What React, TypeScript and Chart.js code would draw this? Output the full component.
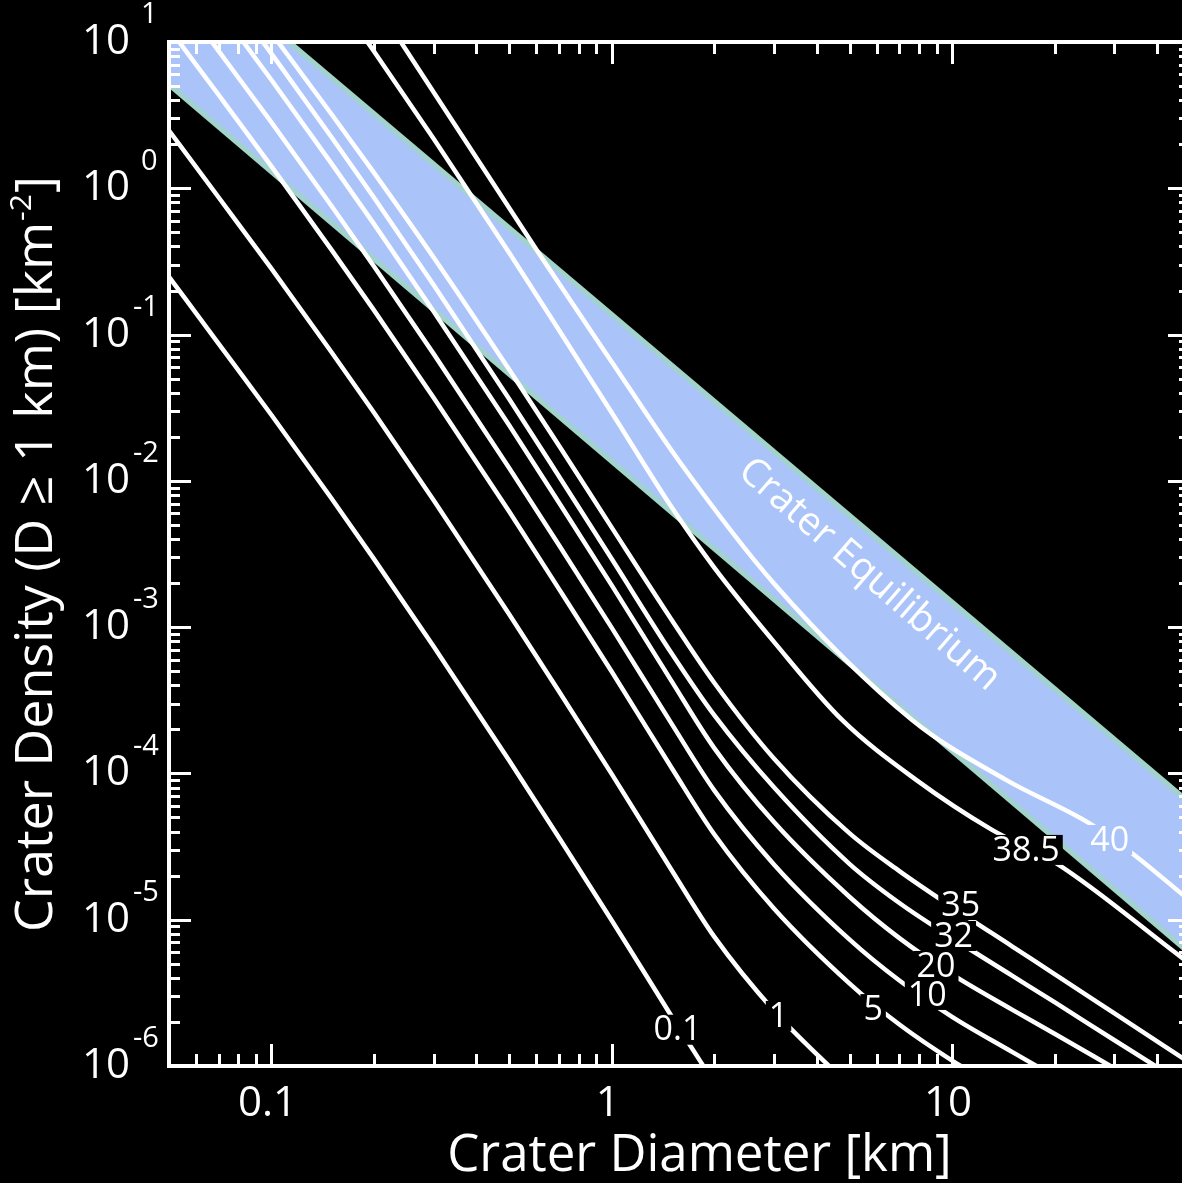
import React, { useEffect, useRef } from "react";
import { Chart, registerables } from "chart.js";

Chart.register(...registerables);

const FONT = '"Open Sans", "Noto Sans", sans-serif';

// ---- axes ----
const xRange = [0.05, 50];
const yRange = [1e-6, 10];
const xTickValues = [0.1, 1, 10];
const xTickLabels = ["0.1", "1", "10"];
const yTickExponents = [-6, -5, -4, -3, -2, -1, 0, 1];

// ---- crater equilibrium band ----
const equilibriumD = [0.05, 50];
const equilibriumUpper = [49.5, 6.27e-5];
const equilibriumLower = [5.1, 5.87e-6];

// ---- crater density curves (diameter km, cumulative density km^-2) ----
const d_0_1 = [0.05, 0.07, 0.1, 0.15, 0.2, 0.3, 0.5, 0.7, 1, 1.5, 2];
const n_0_1 = [0.248, 0.0865, 0.0282, 7.6e-3, 2.93e-3, 7.35e-4, 1.22e-4, 3.63e-5, 9.89e-6, 2.18e-6, 7.66e-7];

const d_1 = [0.05, 0.07, 0.1, 0.15, 0.2, 0.3, 0.5, 0.7, 1, 1.5, 2, 3, 5];
const n_1 = [2.48, 0.865, 0.282, 0.076, 0.0293, 7.35e-3, 1.22e-3, 3.63e-4, 9.89e-5, 2.18e-5, 7.66e-6, 2.38e-6, 7.31e-7];

const d_5 = [0.05, 0.07, 0.1, 0.15, 0.2, 0.3, 0.5, 0.7, 1, 1.5, 2, 3, 5, 7, 10, 15];
const n_5 = [12.4, 4.34, 1.41, 0.381, 0.147, 0.0368, 6.14e-3, 1.82e-3, 4.95e-4, 1.09e-4, 3.84e-5, 1.19e-5, 3.66e-6, 1.92e-6, 1.09e-6, 6.25e-7];

const d_10 = [0.05, 0.07, 0.1, 0.15, 0.2, 0.3, 0.5, 0.7, 1, 1.5, 2, 3, 5, 7, 10, 15, 20];
const n_10 = [24.8, 8.65, 2.82, 0.76, 0.293, 0.0735, 0.0122, 3.63e-3, 9.89e-4, 2.18e-4, 7.66e-5, 2.38e-5, 7.31e-6, 3.84e-6, 2.17e-6, 1.25e-6, 8.49e-7];

const d_20 = [0.05, 0.07, 0.1, 0.15, 0.2, 0.3, 0.5, 0.7, 1, 1.5, 2, 3, 5, 7, 10, 15, 20, 30];
const n_20 = [48.4, 16.9, 5.5, 1.48, 0.571, 0.143, 0.0239, 7.08e-3, 1.93e-3, 4.26e-4, 1.49e-4, 4.63e-5, 1.43e-5, 7.48e-6, 4.23e-6, 2.43e-6, 1.66e-6, 9.64e-7];

const d_32 = [0.07, 0.1, 0.15, 0.2, 0.3, 0.5, 0.7, 1, 1.5, 2, 3, 5, 7, 10, 15, 20, 30, 50];
const n_32 = [25.5, 8.32, 2.24, 0.865, 0.217, 0.0361, 0.0107, 2.92e-3, 6.6e-4, 2.5e-4, 8.0e-5, 2.4e-5, 1.3e-5, 7.5e-6, 4.15e-6, 2.73e-6, 1.5e-6, 7.1e-7];

const d_35 = [0.1, 0.15, 0.2, 0.3, 0.5, 0.7, 1, 1.5, 2, 3, 5, 7, 10, 15, 20, 30, 50];
const n_35 = [11.5, 3.22, 1.28, 0.335, 0.0574, 0.0174, 4.79e-3, 1.12e-3, 4.17e-4, 1.26e-4, 3.89e-5, 2.15e-5, 1.22e-5, 6.58e-6, 4.25e-6, 2.29e-6, 1.05e-6];

const d_38_5 = [0.15, 0.2, 0.3, 0.5, 0.7, 1, 1.5, 2, 3, 4.75, 7.84, 13.1, 20.2, 47, 50];
const n_38_5 = [22.4, 8.65, 2.17, 0.361, 0.107, 0.0292, 6.59e-3, 2.55e-3, 7.9e-4, 2.32e-4, 9.03e-5, 4.11e-5, 2.44e-5, 5.57e-6, 5.0e-6];

const d_40 = [0.15, 0.24, 0.615, 1, 1.582, 3, 7.63, 14.4, 25.2, 33.7, 47, 50];
const n_40 = [55, 10, 0.35, 0.065, 0.0135, 1.98e-3, 2.32e-4, 9.03e-5, 4.59e-5, 2.86e-5, 1.52e-5, 1.35e-5];

const curveD = [d_0_1, d_1, d_5, d_10, d_20, d_32, d_35, d_38_5, d_40];
const curveN = [n_0_1, n_1, n_5, n_10, n_20, n_32, n_35, n_38_5, n_40];

// ---- curve labels ----
const labelText = ["0.1", "1", "5", "10", "20", "32", "35", "38.5", "40"];
const labelD = [1.56, 3.09, 5.86, 8.45, 8.97, 10.1, 10.6, 16.5, 29.05];
const labelN = [1.77e-6, 2.2e-6, 2.45e-6, 3.06e-6, 4.83e-6, 7.74e-6, 1.26e-5, 3.0e-5, 3.51e-5];
const labelInBand = [false, false, false, false, false, false, false, false, true];

const equilibriumText = "Crater Equilibrium";
const equilibriumTextD = 5.71;
const equilibriumTextN = 2.28e-3;

const xTitle = "Crater Diameter [km]";
const yTitleMain = "Crater Density (D \u2265 1 km) [km";
const yTitleSup = "-2";
const yTitleEnd = "]";

const BAND_FILL = "#aac4fa";
const BAND_EDGE = "#a2d3ca";

const decorPlugin = {
  id: "decor",
  beforeDraw(chart: any) {
    const ctx = chart.ctx;
    ctx.save();
    ctx.fillStyle = "#000";
    ctx.fillRect(0, 0, chart.width, chart.height);
    ctx.restore();
  },
  afterDatasetsDraw(chart: any) {
    const ctx = chart.ctx;
    const xs = chart.scales.x;
    const ys = chart.scales.y;
    ctx.save();
    // curve labels with knockout
    ctx.font = `34px ${FONT}`;
    ctx.textAlign = "center";
    ctx.textBaseline = "middle";
    labelText.forEach((t, i) => {
      const px = xs.getPixelForValue(labelD[i]);
      const py = ys.getPixelForValue(labelN[i]);
      const w = ctx.measureText(t).width;
      ctx.fillStyle = labelInBand[i] ? BAND_FILL : "#000";
      ctx.fillRect(px - w / 2 - 3, py - 15, w + 6, 30);
      ctx.fillStyle = "#fff";
      ctx.fillText(t, px, py + 1);
    });
    // equilibrium text along band
    const ax = xs.getPixelForValue(equilibriumD[0]);
    const ay = ys.getPixelForValue(equilibriumLower[0]);
    const bx = xs.getPixelForValue(equilibriumD[1]);
    const by = ys.getPixelForValue(equilibriumLower[1]);
    const ang = Math.atan2(by - ay, bx - ax);
    ctx.translate(xs.getPixelForValue(equilibriumTextD), ys.getPixelForValue(equilibriumTextN));
    ctx.rotate(ang + 0.01);
    ctx.font = `39px ${FONT}`;
    ctx.fillStyle = "#fff";
    ctx.fillText(equilibriumText, 0, 0);
    ctx.restore();
  },
  afterDraw(chart: any) {
    const ctx = chart.ctx;
    const { left, right, top, bottom } = chart.chartArea;
    const xs = chart.scales.x;
    const ys = chart.scales.y;
    ctx.save();
    ctx.strokeStyle = "#fff";
    ctx.fillStyle = "#fff";
    // ticks
    ctx.lineWidth = 3;
    ctx.beginPath();
    for (let e = -2; e <= 2; e++) {
      for (let m = 1; m <= 9; m++) {
        const v = m * Math.pow(10, e);
        if (v < xRange[0] - 1e-9 || v > xRange[1] + 1e-9) continue;
        const px = Math.round(xs.getPixelForValue(v)) + 0.5;
        const len = m === 1 ? 22 : 12;
        ctx.moveTo(px, bottom);
        ctx.lineTo(px, bottom - len);
        ctx.moveTo(px, top);
        ctx.lineTo(px, top + len);
      }
    }
    for (let e = -6; e <= 1; e++) {
      for (let m = 1; m <= 9; m++) {
        const v = m * Math.pow(10, e);
        if (v < yRange[0] * 0.999 || v > yRange[1] * 1.001) continue;
        const py = Math.round(ys.getPixelForValue(v)) + 0.5;
        const len = m === 1 ? 22 : 11;
        ctx.moveTo(left, py);
        ctx.lineTo(left + len, py);
        ctx.moveTo(right, py);
        ctx.lineTo(right - len, py);
      }
    }
    ctx.stroke();
    // frame
    ctx.lineWidth = 4;
    ctx.strokeRect(left, top, right - left, bottom - top);

    // x tick labels
    ctx.font = `42px ${FONT}`;
    ctx.textAlign = "center";
    ctx.textBaseline = "middle";
    xTickValues.forEach((v, i) => {
      ctx.fillText(xTickLabels[i], xs.getPixelForValue(v) - 4, bottom + 38);
    });
    // y tick labels 10^n
    yTickExponents.forEach((e) => {
      const py = ys.getPixelForValue(Math.pow(10, e));
      ctx.font = `42px ${FONT}`;
      ctx.textAlign = "right";
      ctx.textBaseline = "middle";
      ctx.fillText("10", left - 39, py);
      ctx.font = `29px ${FONT}`;
      ctx.textAlign = "left";
      const s = e < 0 ? "-" + Math.abs(e) : String(e);
      ctx.fillText(s, left - 36 + (e < 0 ? 0 : 8), py - 27);
    });
    // x title
    ctx.font = `51px ${FONT}`;
    ctx.textAlign = "center";
    ctx.textBaseline = "middle";
    ctx.fillText(xTitle, (left + right) / 2 + 20, bottom + 90);
    // y title (rotated, with superscript)
    ctx.translate(37, (top + bottom) / 2);
    ctx.rotate(-Math.PI / 2);
    ctx.font = `52px ${FONT}`;
    const w1 = ctx.measureText(yTitleMain).width;
    const w3 = ctx.measureText(yTitleEnd).width;
    ctx.font = `30px ${FONT}`;
    const w2 = ctx.measureText(yTitleSup).width;
    const total = w1 + w2 + w3 + 2;
    let x0 = -total / 2;
    ctx.textAlign = "left";
    ctx.textBaseline = "middle";
    ctx.font = `52px ${FONT}`;
    ctx.fillText(yTitleMain, x0, 0);
    x0 += w1 + 1;
    ctx.font = `30px ${FONT}`;
    ctx.fillText(yTitleSup, x0, -15);
    x0 += w2 + 1;
    ctx.font = `52px ${FONT}`;
    ctx.fillText(yTitleEnd, x0, 0);
    ctx.restore();
  },
};

export default function App() {
  const ref = useRef<HTMLCanvasElement>(null);
  useEffect(() => {
    document.body.style.margin = "0";
    document.body.style.background = "#000";
    document.body.style.overflow = "hidden";
    const canvas = ref.current!;
    const pts = (ds: number[], ns: number[]) => ds.map((d, i) => ({ x: d, y: ns[i] }));
    const curveSets = curveD.map((ds, i) => ({
      label: labelText[i],
      data: pts(ds, curveN[i]),
      borderColor: "#ffffff",
      borderWidth: 4.5,
      pointRadius: 0,
      fill: false,
      cubicInterpolationMode: "monotone" as const,
      clip: 0,
      order: 1,
    }));
    const chart = new Chart(canvas, {
      type: "line",
      data: {
        datasets: [
          ...curveSets,
          {
            label: "eqUpperEdge",
            data: pts(equilibriumD, equilibriumUpper),
            borderColor: BAND_EDGE,
            borderWidth: 5,
            pointRadius: 0,
            fill: false,
            clip: 0,
            order: 5,
          },
          {
            label: "eqLowerEdge",
            data: pts(equilibriumD, equilibriumLower),
            borderColor: BAND_EDGE,
            borderWidth: 5,
            pointRadius: 0,
            fill: false,
            clip: 0,
            order: 5,
          },
          {
            label: "eqFillUpper",
            data: pts(equilibriumD, equilibriumUpper),
            borderWidth: 0,
            borderColor: "rgba(0,0,0,0)",
            backgroundColor: BAND_FILL,
            pointRadius: 0,
            fill: "+1",
            clip: 0,
            order: 10,
          },
          {
            label: "eqFillLower",
            data: pts(equilibriumD, equilibriumLower),
            borderWidth: 0,
            borderColor: "rgba(0,0,0,0)",
            pointRadius: 0,
            fill: false,
            clip: 0,
            order: 11,
          },
        ],
      },
      options: {
        responsive: false,
        animation: false,
        devicePixelRatio: 1,
        events: [],
        layout: { padding: { left: 169, top: 42, right: 10, bottom: 117 } },
        scales: {
          x: { type: "logarithmic", min: xRange[0], max: xRange[1], display: false },
          y: { type: "logarithmic", min: yRange[0], max: yRange[1], display: false },
        },
        plugins: { legend: { display: false }, tooltip: { enabled: false } },
      },
      plugins: [decorPlugin],
    });
    return () => chart.destroy();
  }, []);
  return (
    <div
      style={{
        position: "fixed",
        left: 0,
        top: 0,
        width: 1182,
        height: 1183,
        overflow: "hidden",
        background: "#000",
      }}
    >
      <canvas ref={ref} width={1200} height={1183} style={{ display: "block" }} />
    </div>
  );
}
